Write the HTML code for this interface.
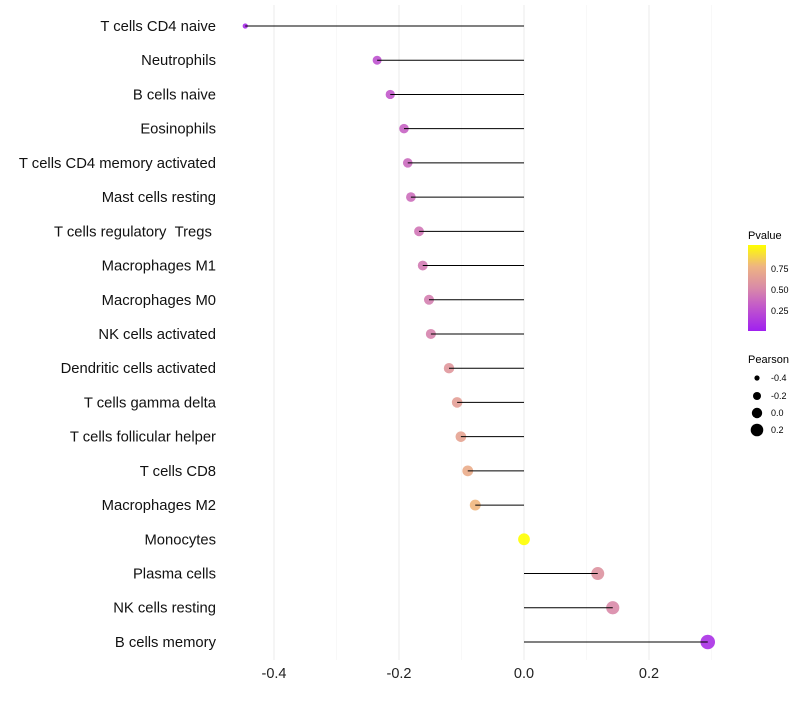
<!DOCTYPE html>
<html><head><meta charset="utf-8"><style>
body{margin:0;background:#fff;font-family:"Liberation Sans",sans-serif;}
</style></head><body>
<svg id="chart" width="800" height="700" xmlns="http://www.w3.org/2000/svg">
<g id="grid"></g>
<g id="dots"></g>
<g id="marks"></g>
<g id="ylabels"></g>
<g id="xlabels"></g>
<g id="legend">
<defs><linearGradient id="pg" x1="0" y1="1" x2="0" y2="0">
<stop offset="0" stop-color="#a020f0"/><stop offset="0.3" stop-color="#c45cc8"/><stop offset="0.5" stop-color="#d98aa8"/><stop offset="0.75" stop-color="#eeb482"/><stop offset="1" stop-color="#ffff00"/></linearGradient></defs>
<text x="748" y="239" font-size="11">Pvalue</text>
<rect x="748" y="245" width="18" height="86" fill="url(#pg)"/>
<text x="771" y="272" font-size="9">0.75</text>
<text x="771" y="293" font-size="9">0.50</text>
<text x="771" y="314" font-size="9">0.25</text>
<text x="748" y="363" font-size="11">Pearson</text>
<circle cx="757" cy="378" r="2.6" fill="#000"/>
<circle cx="757" cy="396" r="4" fill="#000"/>
<circle cx="757" cy="413" r="5.2" fill="#000"/>
<circle cx="757" cy="430" r="6.3" fill="#000"/>
<text x="771" y="381" font-size="9">-0.4</text>
<text x="771" y="399" font-size="9">-0.2</text>
<text x="771" y="416" font-size="9">0.0</text>
<text x="771" y="433" font-size="9">0.2</text>
</g>
</svg>
<script>
const categories=["T cells CD4 naive","Neutrophils","B cells naive","Eosinophils","T cells CD4 memory activated","Mast cells resting","T cells regulatory\u00a0\u00a0Tregs\u00a0","Macrophages M1","Macrophages M0","NK cells activated","Dendritic cells activated","T cells gamma delta","T cells follicular helper","T cells CD8","Macrophages M2","Monocytes","Plasma cells","NK cells resting","B cells memory"];
const pearson=[-0.446,-0.235,-0.214,-0.192,-0.186,-0.181,-0.168,-0.162,-0.152,-0.149,-0.12,-0.107,-0.101,-0.09,-0.078,0.0,0.118,0.142,0.294];
const pvalue=[0.05,0.25,0.28,0.33,0.36,0.38,0.41,0.43,0.45,0.47,0.58,0.62,0.65,0.7,0.76,1.0,0.55,0.5,0.08];
const xTicks=[-0.4,-0.2,0.0,0.2];
const xMinor=[-0.3,-0.1,0.1,0.3];
const NS="http://www.w3.org/2000/svg";
const x=v=>524+v*625;
const y=i=>26+i*34.22;
const rad=v=>Math.sqrt(Math.max(2.2,20+62*(v+0.235)));
const stops=[[0,[160,32,240]],[0.3,[196,92,200]],[0.5,[217,138,168]],[0.75,[238,180,130]],[1,[255,255,0]]];
function col(p){for(let k=1;k<stops.length;k++){if(p<=stops[k][0]){const a=stops[k-1],b=stops[k];const t=(p-a[0])/(b[0]-a[0]);return "rgb("+a[1].map((c,j)=>Math.round(c+(b[1][j]-c)*t)).join(",")+")";}}return "rgb(255,255,0)";}
function mk(tag,attrs,parent){const e=document.createElementNS(NS,tag);for(const k in attrs)e.setAttribute(k,attrs[k]);document.getElementById(parent).appendChild(e);return e;}
xMinor.forEach(v=>{const l=mk("line",{x1:x(v),x2:x(v),y1:5,y2:660,stroke:"#f4f4f4","stroke-width":0.6},"grid");

});
xTicks.forEach(v=>{const l=mk("line",{x1:x(v),x2:x(v),y1:5,y2:660,stroke:"#ebebeb","stroke-width":1},"grid");


const t=mk("text",{x:x(v),y:678,"font-size":14.5,"text-anchor":"middle",fill:"#222"},"xlabels");t.textContent=v.toFixed(1);

});
categories.forEach((c,i)=>{
const d=mk("circle",{cx:x(pearson[i]),cy:y(i),r:rad(pearson[i]),fill:col(pvalue[i]),"fill-opacity":0.9},"dots");


const l=mk("line",{x1:x(0),x2:x(pearson[i]),y1:y(i),y2:y(i),stroke:"#000","stroke-width":1},"marks");


const t=mk("text",{x:216,y:y(i)+5,"font-size":14.8,"text-anchor":"end",fill:"#111"},"ylabels");t.textContent=c;


});
</script>
</body></html>
